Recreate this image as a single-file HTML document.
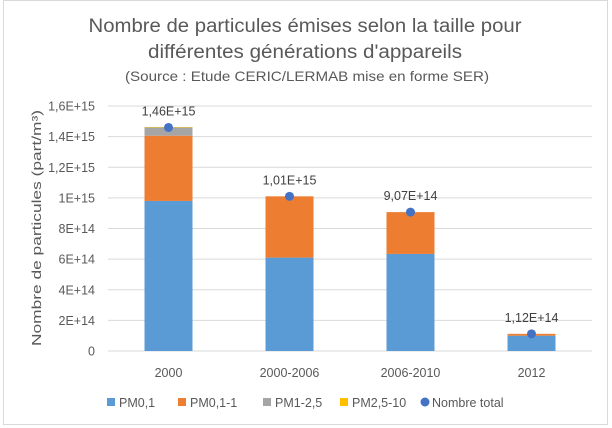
<!DOCTYPE html>
<html><head><meta charset="utf-8"><style>
html,body{margin:0;padding:0;background:#fff}
svg{display:block;font-family:"Liberation Sans",sans-serif}
</style></head><body>
<svg id="chart" width="612" height="428" viewBox="0 0 612 428">
<rect x="3.5" y="0.5" width="604" height="424" fill="#fff" stroke="#d9d9d9"/>
<text x="305" y="32" font-size="19" fill="#595959" text-anchor="middle" textLength="433" lengthAdjust="spacingAndGlyphs">Nombre de particules émises selon la taille pour</text>
<text x="305" y="58" font-size="19" fill="#595959" text-anchor="middle" textLength="314" lengthAdjust="spacingAndGlyphs">différentes générations d'appareils</text>
<text x="307" y="81" font-size="14" fill="#595959" text-anchor="middle" textLength="364" lengthAdjust="spacingAndGlyphs">(Source : Etude CERIC/LERMAB mise en forme SER)</text>
<text transform="translate(41,228) rotate(-90)" font-size="13" fill="#595959" text-anchor="middle" textLength="236" lengthAdjust="spacingAndGlyphs">Nombre de particules (part/m³)</text>
<g id="grid"></g><g id="bars"></g><g id="marks"></g>
<g id="legend" font-size="12.5" fill="#595959">
<rect x="107" y="398" width="8" height="8" fill="#5b9bd5"/>
<text x="119" y="407">PM0,1</text>
<rect x="178" y="398" width="8" height="8" fill="#ed7d31"/>
<text x="190" y="407">PM0,1-1</text>
<rect x="263" y="398" width="8" height="8" fill="#a5a5a5"/>
<text x="275" y="407">PM1-2,5</text>
<rect x="340" y="398" width="8" height="8" fill="#ffc000"/>
<text x="352" y="407">PM2,5-10</text>
<circle cx="425" cy="402" r="4.5" fill="#4472c4"/>
<text x="432" y="407">Nombre total</text>
</g>
</svg>
<script>
const categories=["2000","2000-2006","2006-2010","2012"];
const pm01=[0.98e15,0.61e15,0.634e15,0.100e15];
const pm01_1=[0.426e15,0.40e15,0.273e15,0.012e15];
const pm1_25=[0.054e15,0,0,0];
const pm25_10=[0.003e15,0,0,0];
const totals=[1.46e15,1.01e15,9.07e14,1.12e14];
const totalLabels=["1,46E+15","1,01E+15","9,07E+14","1,12E+14"];
const yTicks=[0,2e14,4e14,6e14,8e14,1e15,1.2e15,1.4e15,1.6e15];
const yTickLabels=["0","2E+14","4E+14","6E+14","8E+14","1E+15","1,2E+15","1,4E+15","1,6E+15"];
const NS="http://www.w3.org/2000/svg";
const x0=108,x1=592,y0=351,y1=106,yMax=1.6e15;
const band=(x1-x0)/categories.length,bw=48;
const Y=v=>y0-(v/yMax)*(y0-y1);
const X=i=>x0+band*(i+0.5);
function mk(tag,attrs,parent){const e=document.createElementNS(NS,tag);for(const k in attrs)e.setAttribute(k,attrs[k]);parent.appendChild(e);return e;}
const grid=document.getElementById('grid'),bars=document.getElementById('bars'),marks=document.getElementById('marks');
yTicks.forEach((t,i)=>{
  const l=mk('line',{x1:x0,x2:x1,y1:Y(t),y2:Y(t),stroke:'#d9d9d9','stroke-width':1},grid);
  
  
  const tx=mk('text',{x:95,y:Y(t)+4.5,'font-size':12.5,fill:'#595959','text-anchor':'end'},grid);
  tx.textContent=yTickLabels[i];
  
  
});
const series=[[pm01,'#5b9bd5','pm01'],[pm01_1,'#ed7d31','pm01-1'],[pm1_25,'#a5a5a5','pm1-25'],[pm25_10,'#ffc000','pm25-10']];
categories.forEach((c,i)=>{
  let acc=0;
  series.forEach(([arr,col,nm])=>{
    const v=arr[i];if(v<=0)return;
    const r=mk('rect',{x:X(i)-bw/2,y:Y(acc+v),width:bw,height:Y(acc)-Y(acc+v),fill:col},bars);
    
    
    acc+=v;
  });
  const d=mk('circle',{cx:X(i),cy:Y(totals[i]),r:4.5,fill:'#4472c4'},marks);
  
  
  const lb=mk('text',{x:X(i),y:Y(totals[i])-12,'font-size':12.5,fill:'#404040','text-anchor':'middle'},marks);
  lb.textContent=totalLabels[i];
  
  
  const cl=mk('text',{x:X(i),y:377,'font-size':12.5,fill:'#595959','text-anchor':'middle'},marks);
  cl.textContent=c;
  
  
});
</script>
</body></html>
